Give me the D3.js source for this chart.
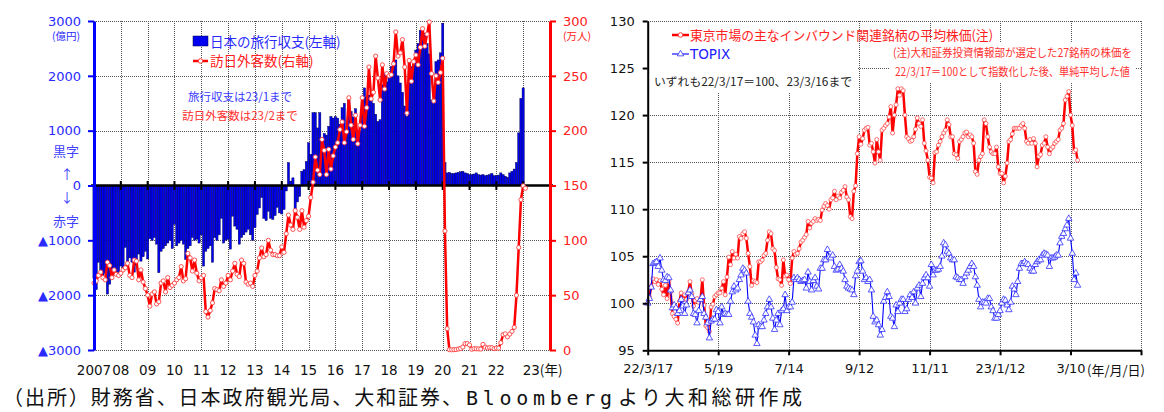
<!DOCTYPE html>
<html><head><meta charset="utf-8">
<script src="https://cdn.jsdelivr.net/npm/d3@7"></script>
<style>
body{margin:0;background:#fff}
text{font-family:"DejaVu Sans","Noto Sans CJK JP",sans-serif}
.jp{font-family:"Noto Sans CJK JP",sans-serif}
</style></head>
<body><svg id="c" width="1164" height="412"></svg>
<script>
// ---------- Left chart data ----------
const yearLabels = ["2007","08","09","10","11","12","13","14","15","16","17","18","19","20","21","22","23"];
// Travel balance (100 million yen), monthly from 2007/1 to 2023/1
const travelBalance = [
 -1700,-1900,-1400,-1550,-1650,-1600,-1980,-1800,-1700,-1550,-1600,-1650, // 2007
 -1470,-1500,-1130,-1520,-1320,-1400,-1580,-1450,-1250,-1380,-1300,-1200, // 2008
 -1340,-970,-1000,-950,-1070,-1590,-1200,-1150,-1100,-1050,-1000,-1150,   // 2009
 -710,-1100,-1050,-1000,-1070,-1350,-1150,-1100,-950,-1000,-980,-1050,    // 2010
 -900,-1470,-1200,-1150,-1100,-1400,-950,-1000,-900,-600,-1050,-1000,     // 2011
 -980,-1160,-560,-740,-800,-1070,-950,-900,-850,-800,-900,-1000,          // 2012
 -770,-530,-410,-220,-600,-640,-470,-600,-620,-550,-400,-500,             // 2013
 -520,-440,-100,420,80,140,-470,-300,-200,260,290,440,                    // 2014
 780,570,1330,1330,1050,1330,720,950,920,1080,1260,1230,                  // 2015
 1260,1230,1120,1420,1500,1000,1560,1350,1250,1400,960,1000,              // 2016
 1560,1780,1600,1650,1650,1500,1300,1170,1200,1840,2050,1890,             // 2017
 2000,2170,2260,2290,2000,1870,1700,1450,1260,2290,2170,2200,             // 2018
 2470,2590,2830,2680,2780,2590,2400,1560,1530,2260,2290,2420,             // 2019
 2960,420,230,240,220,220,230,240,250,260,230,220,                        // 2020
 200,200,210,230,200,190,200,180,190,200,220,180,                         // 2021
 180,190,230,200,170,150,230,260,300,420,960,1590,                        // 2022
 1780                                                                     // 2023
];
// Visitor arrivals (10 thousand persons), monthly from 2007/1 to 2023/2
const visitors = [
 61,63,68,71,66,64,80,77,66,73,69,68,
 70,73,75,79,68,66,82,81,64,73,62,56,
 50,40,51,53,42,44,61,63,53,66,57,59,
 61,64,66,76,63,65,88,84,72,82,70,63,
 66,68,35,30,36,43,56,55,54,64,58,61,
 68,64,72,79,69,67,82,79,62,60,61,58,
 68,72,84,93,85,87,100,91,87,87,86,86,
 94,89,106,123,114,110,127,121,110,127,112,118,
 122,139,153,176,164,160,192,182,160,183,165,177,
 185,189,201,208,189,199,230,205,192,214,188,205,
 230,204,221,258,229,235,268,248,228,260,238,252,
 250,251,261,290,268,271,283,258,216,264,245,263,
 269,260,276,293,277,288,299,252,227,250,244,253,
 266,108.5,19.4,0.3,0.2,0.3,0.4,0.9,1.4,2.7,5.7,5.9,
 4.6,0.7,1.2,1.1,1.0,0.9,5.1,2.6,1.8,2.2,2.1,1.2,
 1.8,1.7,6.6,14.0,14.7,12.0,14.5,17.0,20.7,49.9,93.5,137.0,
 149.7,147.5
];
const leftTicks = [-3000,-2000,-1000,0,1000,2000,3000];
const rightTicks = [0,50,100,150,200,250,300];

// ---------- Right chart data ----------
const dateLabels = ["22/3/17","5/19","7/14","9/12","11/11","23/1/12","3/10",""];
const stockTicks = [95,100,105,110,115,120,125,130];
// Average of inbound-related stocks (22/3/17=100), daily
const inboundIndex = [
 100.0,100.7,101.8,102.6,102.3,102.5,102.0,102.4,101.5,100.9,
 101.9,100.5,102.3,101.2,98.9,98.6,98.3,97.9,100.2,101.1,
 100.4,100.9,100.4,101.2,102.3,101.0,99.7,100.3,100.5,100.1,
 100.4,102.5,99.8,97.6,97.4,97.0,99.6,99.9,100.7,100.9,
 101.1,101.1,101.6,102.3,100.9,102.8,104.9,104.1,105.5,104.8,
 105.2,104.8,107.1,106.9,107.4,107.6,106.9,105.3,103.9,101.9,
 102.4,102.3,102.2,104.4,104.4,104.6,105.1,105.3,106.7,107.6,
 107.4,105.8,105.6,103.8,102.6,102.5,101.9,104.6,102.9,103.0,
 102.5,102.1,104.8,105.5,105.2,105.3,105.8,106.5,106.7,107.0,
 107.3,108.7,108.0,108.5,108.7,109.0,108.8,108.9,108.8,109.9,
 110.3,110.6,110.4,110.0,111.0,111.2,111.9,111.0,111.4,111.2,
 111.8,112.0,112.4,111.3,111.0,109.2,109.0,111.9,112.5,115.9,
 117.7,116.9,117.5,118.4,118.6,118.7,116.8,117.0,116.1,114.9,
 117.4,116.1,115.2,118.4,118.6,118.9,119.1,119.8,120.9,118.1,
 120.0,121.1,122.8,122.1,122.8,122.6,120.0,117.7,117.5,117.2,
 117.3,117.7,118.5,119.7,119.1,118.8,119.5,117.0,116.2,115.2,
 113.4,113.3,112.8,116.0,116.1,116.8,117.2,117.7,118.1,118.4,
 119.5,119.0,117.7,117.7,115.9,115.8,115.4,117.2,117.4,117.7,
 118.1,118.2,117.7,117.9,117.7,117.0,114.0,113.7,115.2,115.6,
 115.9,119.5,119.1,117.7,116.6,116.1,115.9,115.9,116.6,114.5,
 113.8,113.8,112.8,113.5,114.9,117.2,117.4,118.0,118.6,118.6,
 118.6,118.6,118.9,119.1,118.6,117.2,117.0,117.4,117.0,117.5,
 117.0,114.5,115.6,115.8,116.8,117.0,117.7,116.6,115.9,116.4,
 116.6,117.0,117.2,117.4,118.4,118.6,119.1,121.6,122.0,122.5,
 120.0,118.9,116.1,116.3,115.2
];
// TOPIX (22/3/17=100), daily
const topixIndex = [
 100.0,100.5,101.7,104.2,104.3,104.4,103.9,104.8,103.5,102.5,
 102.4,102.8,102.7,101.4,99.5,99.8,99.5,98.9,99.2,100.4,
 99.7,98.9,99.8,101.1,101.4,100.7,98.9,98.8,97.9,99.2,
 100.4,100.7,98.9,98.5,97.9,96.3,98.1,98.3,98.3,99.3,
 99.1,97.9,99.6,98.8,98.9,98.8,98.8,100.2,101.2,101.8,
 101.4,101.6,102.5,103.0,103.7,103.5,103.2,100.2,98.9,98.5,
 98.0,96.6,95.7,97.7,97.5,97.5,98.2,98.9,99.6,100.4,
 99.6,98.4,97.2,98.2,98.9,97.7,99.2,99.4,100.9,99.2,
 99.6,99.6,100.1,102.7,102.5,102.7,102.5,102.3,102.4,102.5,
 101.6,103.3,102.3,101.4,102.4,102.7,101.8,101.5,103.7,103.7,
 104.6,104.6,105.7,104.9,104.8,105.1,103.9,103.5,103.6,104.1,
 103.7,103.4,102.5,101.8,101.6,101.5,101.4,100.9,102.9,103.4,
 104.4,104.5,103.4,102.5,102.7,102.3,102.5,101.4,98.6,98.0,
 98.2,97.7,96.6,97.2,100.2,100.6,101.2,100.7,98.6,98.4,
 97.5,99.8,99.1,100.0,100.4,100.4,99.1,99.4,100.4,100.9,
 100.6,101.2,100.0,101.6,101.9,100.7,102.1,102.7,103.0,102.7,
 101.8,104.1,103.0,103.5,103.5,103.6,103.9,105.0,106.4,106.2,
 105.5,105.3,104.8,104.6,104.6,102.8,102.7,102.5,102.5,102.1,
 102.8,103.2,103.5,103.9,104.2,103.9,102.8,101.9,100.4,99.6,
 100.1,100.1,100.0,100.5,100.5,99.6,99.2,98.4,98.4,98.8,
 99.2,100.0,100.4,100.3,99.8,99.3,100.1,101.8,101.5,100.9,
 102.3,103.7,104.2,104.2,104.4,104.2,104.1,103.7,103.4,103.4,
 104.1,104.4,104.6,104.6,105.1,105.3,105.2,105.1,103.9,104.8,
 104.8,104.9,105.1,105.1,106.4,107.1,107.4,107.9,108.3,109.0,
 106.9,105.3,102.5,103.2,101.9
];

// ---------- Drawing ----------
const svg = d3.select("#c");
svg.append("rect").attr("width",1164).attr("height",412).attr("fill","#fff");
const GRID = "#555";

// ===== LEFT CHART =====
const xL = d3.scaleLinear().domain([0,204]).range([94,550]);
const yL = d3.scaleLinear().domain([-3000,3000]).range([350,21]);
const yR = d3.scaleLinear().domain([0,300]).range([350,21]);
const gl = svg.append("g");
const yearIdx = yearLabels.map((d,i)=>i*12);

gl.selectAll(".hg").data(leftTicks.filter(d=>d!==0)).join("line")
  .attr("x1",94).attr("x2",550).attr("y1",d=>Math.round(yL(d))+0.5).attr("y2",d=>Math.round(yL(d))+0.5)
  .attr("stroke",GRID).attr("stroke-dasharray","1,1");
gl.selectAll(".vg").data(yearIdx.slice(1)).join("line")
  .attr("x1",d=>Math.round(xL(d))+0.5).attr("x2",d=>Math.round(xL(d))+0.5).attr("y1",21).attr("y2",350)
  .attr("stroke",GRID).attr("stroke-dasharray","1,1");

const bw = xL(1)-xL(0);
gl.selectAll(".bar").data(travelBalance).join("rect")
  .attr("x",(d,i)=>xL(i)-bw/2).attr("width",bw)
  .attr("y",d=>yL(Math.max(0,d))).attr("height",d=>Math.abs(yL(d)-yL(0)))
  .attr("fill","#0000f0").attr("stroke","#000040").attr("stroke-width",0.4);

// zero line
const y0 = yL(0);
gl.append("line").attr("x1",91).attr("x2",553).attr("y1",y0).attr("y2",y0).attr("stroke","#000").attr("stroke-width",2.5);
gl.selectAll(".zt").data(yearIdx.slice(1)).join("line")
  .attr("x1",d=>xL(d)).attr("x2",d=>xL(d)).attr("y1",y0-4.5).attr("y2",y0+4.5)
  .attr("stroke","#000").attr("stroke-width",2);

// visitors line
gl.append("path").datum(visitors)
  .attr("d",d3.line().x((d,i)=>xL(i)).y(d=>yR(d)))
  .attr("fill","none").attr("stroke","#ff0000").attr("stroke-width",2.5).attr("stroke-linejoin","round");
gl.selectAll(".vm").data(visitors).join("circle")
  .attr("cx",(d,i)=>xL(i)).attr("cy",d=>yR(d)).attr("r",2.1)
  .attr("fill","#fff").attr("stroke","#ff4040").attr("stroke-width",0.9);

// left axis
const axL = d3.axisLeft(yL).tickValues(leftTicks).tickSize(6).tickSizeOuter(0).tickPadding(7)
  .tickFormat(d=> d<0 ? "▲"+(-d) : d);
const ga = svg.append("g").attr("transform","translate(94,0)").call(axL);
ga.select(".domain").attr("stroke","#0000ff").attr("stroke-width",3);
ga.selectAll(".tick line").attr("stroke","#0000ff").attr("stroke-width",2);
ga.selectAll(".tick text").attr("fill","#2a2aff").style("font-size","13px").style("font-family","DejaVu Sans");

// right axis
const axR = d3.axisRight(yR).tickValues(rightTicks).tickSize(6).tickSizeOuter(0).tickPadding(7);
const gr = svg.append("g").attr("transform","translate(550,0)").call(axR);
gr.select(".domain").attr("stroke","#ff0000").attr("stroke-width",3);
gr.selectAll(".tick line").attr("stroke","#ff0000").attr("stroke-width",2);
gr.selectAll(".tick text").attr("fill","#ff2020").style("font-size","13px").style("font-family","DejaVu Sans");

// unit / side labels
svg.append("text").attr("class","jp").attr("x",80).attr("y",40).attr("text-anchor","end")
  .attr("fill","#2a2aff").style("font-size","10.5px").text("(億円)");
svg.append("text").attr("class","jp").attr("x",563).attr("y",40)
  .attr("fill","#ff2020").style("font-size","10.5px").text("(万人)");
[["黒字",156],["↑",179],["↓",202],["赤字",226]].forEach(([t,y])=>{
  svg.append("text").attr("class","jp").attr("x",t.length>1?66:67).attr("y",y).attr("text-anchor","middle")
    .attr("fill","#4040ff").style("font-size","13px").text(t);
});

// year labels
svg.selectAll(".yl").data(yearLabels.slice(0,-1)).join("text")
  .attr("x",(d,i)=>xL(i*12)).attr("y",375).attr("text-anchor","middle")
  .style("font-size","13.5px").attr("fill","#111").text(d=>d);
svg.append("text").attr("x",xL(192)-0.5).attr("y",375).style("font-size","13.5px").attr("fill","#111")
  .text(yearLabels[yearLabels.length-1]).append("tspan").style("font-family","Noto Sans CJK JP").text("(年)");

// legend
svg.append("rect").attr("x",193).attr("y",36).attr("width",15).attr("height",10).attr("fill","#0000f0").attr("stroke","#000040").attr("stroke-width",0.5);
svg.append("text").attr("class","jp").attr("x",210).attr("y",47).attr("fill","#2a2aff").style("font-size","13.5px").text("日本の旅行収支(左軸)");
svg.append("line").attr("x1",193).attr("x2",208).attr("y1",61).attr("y2",61).attr("stroke","#ff0000").attr("stroke-width",2.5);
svg.append("circle").attr("cx",200.5).attr("cy",61).attr("r",2.3).attr("fill","#fff").attr("stroke","#ff4040");
svg.append("text").attr("class","jp").attr("x",210).attr("y",66).attr("fill","#ff2020").style("font-size","13.5px").text("訪日外客数(右軸)");
svg.append("text").attr("class","jp").attr("x",240).attr("y",101).attr("text-anchor","middle").attr("fill","#3a3aff").style("font-size","11.5px").text("旅行収支は23/1まで");
svg.append("text").attr("class","jp").attr("x",240).attr("y",120).attr("text-anchor","middle").attr("fill","#ff3030").style("font-size","11.5px").text("訪日外客数は23/2まで");

// ===== RIGHT CHART =====
const xS = d3.scaleLinear().domain([0,280]).range([647.7,1141]);
const yS = d3.scaleLinear().domain([95,130]).range([350.3,21]);
const gs = svg.append("g");
gs.selectAll(".hg").data(stockTicks.slice(1)).join("line")
  .attr("x1",648).attr("x2",1141).attr("y1",d=>Math.round(yS(d))+0.5).attr("y2",d=>Math.round(yS(d))+0.5)
  .attr("stroke",GRID).attr("stroke-dasharray","1,1");
const dTicks = dateLabels.map((d,i)=>i*40);
gs.selectAll(".vg").data(dTicks.slice(1)).join("line")
  .attr("x1",d=>Math.round(xS(d))+0.5).attr("x2",d=>Math.round(xS(d))+0.5).attr("y1",21).attr("y2",350)
  .attr("stroke",GRID).attr("stroke-dasharray","1,1");

// white boxes behind texts
gs.append("rect").attr("x",650).attr("y",23).attr("width",207).attr("height",70).attr("fill","#fff");
gs.append("rect").attr("x",889).attr("y",43).attr("width",247).attr("height",39).attr("fill","#fff");

// lines
gs.append("path").datum(inboundIndex)
  .attr("d",d3.line().x((d,i)=>xS(i)).y(d=>yS(d)))
  .attr("fill","none").attr("stroke","#ff0000").attr("stroke-width",2.5).attr("stroke-linejoin","round");
gs.selectAll(".im").data(inboundIndex).join("circle")
  .attr("cx",(d,i)=>xS(i)).attr("cy",d=>yS(d)).attr("r",2)
  .attr("fill","#fff").attr("stroke","#ff4a4a").attr("stroke-width",0.8);
gs.append("path").datum(topixIndex)
  .attr("d",d3.line().x((d,i)=>xS(i)).y(d=>yS(d)))
  .attr("fill","none").attr("stroke","#0000ff").attr("stroke-width",1.1);
const tri = d3.symbol().type(d3.symbolTriangle).size(18);
gs.selectAll(".tm").data(topixIndex).join("path")
  .attr("d",tri).attr("transform",(d,i)=>`translate(${xS(i)},${yS(d)})`)
  .attr("fill","#fff").attr("stroke","#3030ff").attr("stroke-width",0.8);

// axes
const axS = d3.axisLeft(yS).tickValues(stockTicks).tickSize(5).tickSizeOuter(0).tickPadding(8);
const gsa = svg.append("g").attr("transform","translate(647.7,0)").call(axS);
gsa.select(".domain").attr("stroke","#000").attr("stroke-width",2);
gsa.selectAll(".tick line").attr("stroke","#000").attr("stroke-width",2);
gsa.selectAll(".tick text").attr("fill","#111").style("font-size","13px").style("font-family","DejaVu Sans");
const axB = d3.axisBottom(xS).tickValues(dTicks).tickSize(5).tickSizeOuter(0).tickPadding(8)
  .tickFormat((d,i)=>dateLabels[i]);
const gsb = svg.append("g").attr("transform","translate(0,350.3)").call(axB);
gsb.select(".domain").attr("stroke","#000").attr("stroke-width",2);
gsb.selectAll(".tick line").attr("stroke","#000").attr("stroke-width",2);
gsb.selectAll(".tick text").attr("fill","#111").style("font-size","13px").style("font-family","DejaVu Sans");
svg.append("text").attr("class","jp").attr("x",1087).attr("y",375).attr("fill","#111").style("font-size","13px").text("(年/月/日)");

// right legend
svg.append("line").attr("x1",672).attr("x2",689).attr("y1",35).attr("y2",35).attr("stroke","#ff0000").attr("stroke-width",2.5);
svg.append("circle").attr("cx",680.5).attr("cy",35).attr("r",2.3).attr("fill","#fff").attr("stroke","#ff4040");
svg.append("text").attr("class","jp").attr("x",690).attr("y",40).attr("fill","#ff2020").style("font-size","13px")
  .attr("textLength",303).attr("lengthAdjust","spacingAndGlyphs").text("東京市場の主なインバウンド関連銘柄の平均株価(注)");
svg.append("line").attr("x1",672).attr("x2",689).attr("y1",54).attr("y2",54).attr("stroke","#0000ff").attr("stroke-width",1.1);
svg.append("path").attr("d",tri).attr("transform","translate(680.5,54)").attr("fill","#fff").attr("stroke","#3030ff").attr("stroke-width",0.8);
svg.append("text").attr("x",690).attr("y",59).attr("fill","#2020ff").style("font-size","13.5px").text("TOPIX");
svg.append("text").attr("class","jp").attr("x",654).attr("y",86).attr("fill","#222").style("font-size","11.5px")
  .attr("textLength",198).attr("lengthAdjust","spacingAndGlyphs").text("いずれも22/3/17＝100、23/3/16まで");
svg.append("text").attr("class","jp").attr("x",893).attr("y",57).attr("fill","#ff3030").style("font-size","11.5px")
  .attr("textLength",239).attr("lengthAdjust","spacingAndGlyphs").text("(注)大和証券投資情報部が選定した27銘柄の株価を");
svg.append("text").attr("class","jp").attr("x",895).attr("y",76).attr("fill","#ff3030").style("font-size","11.5px")
  .attr("textLength",235).attr("lengthAdjust","spacingAndGlyphs").text("22/3/17＝100として指数化した後、単純平均した値");

// source
const src = svg.append("text").attr("class","jp").attr("y",405).attr("fill","#111").style("font-size","20px");
src.append("tspan").attr("x",3).attr("textLength",459).attr("lengthAdjust","spacing").text("（出所）財務省、日本政府観光局、大和証券、");
src.append("tspan").attr("x",466).attr("textLength",146).attr("lengthAdjust","spacing").style("font-family","DejaVu Sans Mono").text("Bloomberg");
src.append("tspan").attr("x",618).attr("textLength",184).attr("lengthAdjust","spacing").text("より大和総研作成");
</script></body></html>
